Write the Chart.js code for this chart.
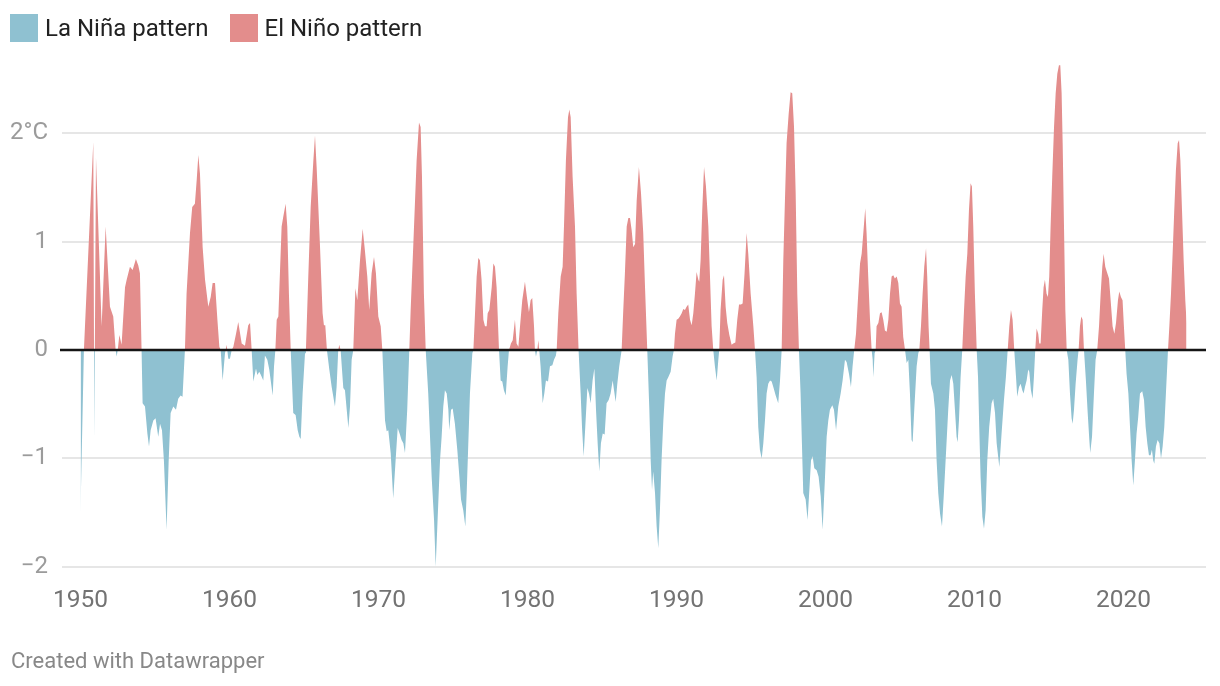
<!DOCTYPE html>
<html>
<head>
<meta charset="utf-8">
<script src="https://cdn.jsdelivr.net/npm/chart.js@4.4.0/dist/chart.umd.min.js"></script>
<style>
  body { margin: 0; background: #fff; font-family: Roboto, sans-serif; }
  #wrap { position: relative; width: 1220px; height: 686px; overflow: hidden; }
  #chart { position: absolute; left: 0; top: 0; }
  .legend { position: absolute; left: 10px; top: 14px; display: flex; align-items: center; font-size: 24px; line-height: 28px; color: #222; }
  .legend span.sw { display: inline-block; width: 28px; height: 28px; margin-right: 7px; }
  .legend .item { display: flex; align-items: center; margin-right: 21px; }
  .footer { position: absolute; left: 11px; top: 648px; font-size: 22px; color: #888; }
</style>
</head>
<body>
<div id="wrap">
  <canvas id="chart" width="1220" height="686"></canvas>
  <div class="legend">
    <div class="item"><span class="sw" style="background:#8fc1d1"></span>La Niña pattern</div>
    <div class="item"><span class="sw" style="background:#e38d8c"></span>El Niño pattern</div>
  </div>
  <div class="footer">Created with Datawrapper</div>
</div>
<script>
// sea surface temperature anomaly
const years = [
  1950.0, 1950.23, 1950.86, 1950.93, 1951.04, 1951.42, 1951.69, 1951.98, 1952.2, 1952.36, 1952.43, 1952.5,
  1952.61, 1952.76, 1952.99, 1953.1, 1953.32, 1953.5, 1953.72, 1953.88, 1953.99, 1954.1, 1954.17, 1954.33,
  1954.49, 1954.6, 1954.71, 1954.89, 1955.04, 1955.22, 1955.34, 1955.47, 1955.6, 1955.78, 1955.92, 1956.05,
  1956.23, 1956.41, 1956.56, 1956.72, 1956.85, 1957.01, 1957.12, 1957.35, 1957.5, 1957.68, 1957.8, 1957.91,
  1958.02, 1958.2, 1958.36, 1958.58, 1958.74, 1958.87, 1959.03, 1959.19, 1959.32, 1959.41, 1959.54, 1959.7,
  1959.81, 1959.92, 1960.03, 1960.15, 1960.26, 1960.44, 1960.59, 1960.82, 1961.04, 1961.26, 1961.38,
  1961.49, 1961.6, 1961.78, 1961.87, 1962.0, 1962.11, 1962.27, 1962.38, 1962.54, 1962.67, 1962.9, 1962.99,
  1963.08, 1963.17, 1963.28, 1963.5, 1963.61, 1963.77, 1963.88, 1963.99, 1964.11, 1964.28, 1964.44, 1964.58,
  1964.69, 1964.78, 1964.91, 1965.07, 1965.13, 1965.29, 1965.45, 1965.63, 1965.74, 1965.85, 1966.07, 1966.25,
  1966.34, 1966.43, 1966.54, 1966.7, 1966.86, 1967.08, 1967.19, 1967.3, 1967.37, 1967.46, 1967.64, 1967.75,
  1967.98, 1968.09, 1968.2, 1968.31, 1968.45, 1968.58, 1968.76, 1968.94, 1969.09, 1969.25, 1969.38, 1969.54,
  1969.7, 1969.83, 1969.99, 1970.15, 1970.26, 1970.44, 1970.55, 1970.66, 1970.82, 1970.99, 1971.15, 1971.29,
  1971.44, 1971.55, 1971.67, 1971.78, 1971.93, 1972.07, 1972.16, 1972.34, 1972.56, 1972.72, 1972.83, 1972.92,
  1973.05, 1973.17, 1973.34, 1973.57, 1973.73, 1973.84, 1973.95, 1974.13,
  1974.24, 1974.35, 1974.46, 1974.58, 1974.69, 1974.75, 1974.87, 1974.98, 1975.13, 1975.29, 1975.43, 1975.54,
  1975.69, 1975.83, 1975.92, 1976.03, 1976.14, 1976.3, 1976.37, 1976.48, 1976.59, 1976.7, 1976.81, 1976.92,
  1977.04, 1977.15, 1977.26, 1977.33, 1977.44, 1977.6, 1977.71, 1977.82, 1977.93, 1978.09, 1978.2, 1978.31,
  1978.42, 1978.54, 1978.67, 1978.76, 1978.89, 1979.01, 1979.16, 1979.27, 1979.39, 1979.5, 1979.65, 1979.83,
  1979.99, 1980.1, 1980.21, 1980.32, 1980.44, 1980.5, 1980.57, 1980.66, 1980.73, 1980.79, 1980.88, 1981.02,
  1981.13, 1981.24, 1981.38, 1981.51, 1981.67, 1981.78, 1981.91, 1981.96, 1982.07, 1982.23, 1982.36, 1982.45,
  1982.58, 1982.72, 1982.81, 1982.9, 1983.03, 1983.19, 1983.3, 1983.43, 1983.57, 1983.66, 1983.77, 1983.88,
  1984.02, 1984.13, 1984.24, 1984.37, 1984.49, 1984.6, 1984.71, 1984.82, 1984.93, 1985.05, 1985.18, 1985.31,
  1985.45, 1985.58, 1985.72, 1985.81, 1985.92, 1986.03, 1986.16, 1986.32, 1986.43, 1986.54, 1986.66, 1986.77,
  1986.88, 1986.99, 1987.1, 1987.22, 1987.33, 1987.48,
  1987.62, 1987.77, 1987.89, 1988.04, 1988.18, 1988.27, 1988.36, 1988.44, 1988.56, 1988.67, 1988.78, 1988.89,
  1989.0, 1989.12, 1989.23, 1989.34, 1989.45, 1989.61, 1989.74, 1989.83, 1989.9, 1990.01, 1990.12, 1990.23,
  1990.35, 1990.46, 1990.57, 1990.68, 1990.79, 1990.91, 1991.02, 1991.13, 1991.24, 1991.35, 1991.47, 1991.53,
  1991.62, 1991.73, 1991.85, 1991.98, 1992.14, 1992.25, 1992.36, 1992.47, 1992.58, 1992.7, 1992.81, 1992.87,
  1992.96, 1993.1, 1993.19, 1993.3, 1993.41, 1993.55, 1993.7, 1993.81, 1993.95, 1994.08, 1994.2, 1994.33,
  1994.44, 1994.57, 1994.71, 1994.82, 1994.98, 1995.16, 1995.27, 1995.38, 1995.49, 1995.6, 1995.72, 1995.83,
  1995.94, 1996.05, 1996.16, 1996.28, 1996.39, 1996.5, 1996.66, 1996.83, 1996.95, 1997.06, 1997.17, 1997.28,
  1997.39, 1997.53, 1997.66, 1997.77, 1997.89, 1998.0, 1998.11, 1998.22, 1998.33, 1998.42, 1998.51, 1998.67,
  1998.8, 1998.92, 1999.03, 1999.14, 1999.25, 1999.41, 1999.54, 1999.68, 1999.81,
  1999.97, 2000.08, 2000.19, 2000.3, 2000.46, 2000.57, 2000.71, 2000.86, 2001.02, 2001.15, 2001.31, 2001.42,
  2001.58, 2001.71, 2001.82, 2001.93, 2002.05, 2002.2, 2002.32, 2002.43, 2002.54, 2002.67, 2002.76, 2002.87,
  2002.99, 2003.1, 2003.17, 2003.21, 2003.3, 2003.37, 2003.43, 2003.55, 2003.66, 2003.77, 2003.88, 2003.99,
  2004.11, 2004.22, 2004.33, 2004.44, 2004.55, 2004.66, 2004.78, 2004.89, 2005.0, 2005.11, 2005.22, 2005.34,
  2005.45, 2005.56, 2005.67, 2005.78, 2005.85, 2005.96, 2006.12, 2006.23, 2006.3, 2006.41, 2006.52, 2006.63,
  2006.75, 2006.83, 2006.92, 2006.99, 2007.08, 2007.24, 2007.35, 2007.46, 2007.57, 2007.69, 2007.82, 2007.95,
  2008.09, 2008.24, 2008.36, 2008.47, 2008.58, 2008.69, 2008.8, 2008.87, 2008.96, 2009.07, 2009.18, 2009.3,
  2009.41, 2009.52, 2009.63, 2009.74, 2009.83, 2009.92, 2010.03, 2010.15, 2010.24, 2010.32, 2010.41, 2010.53,
  2010.64, 2010.75, 2010.86, 2010.99, 2011.15, 2011.26, 2011.38, 2011.49, 2011.67, 2011.82, 2011.98, 2012.11,
  2012.23, 2012.34, 2012.45, 2012.56, 2012.67,
  2012.79, 2012.87, 2012.99, 2013.1, 2013.21, 2013.3, 2013.39, 2013.5, 2013.61, 2013.68, 2013.79, 2013.9,
  2013.99, 2014.08, 2014.17, 2014.28, 2014.35, 2014.44, 2014.55, 2014.64, 2014.73, 2014.84, 2014.93, 2015.02,
  2015.11, 2015.22, 2015.34, 2015.45, 2015.56, 2015.67, 2015.76, 2015.85, 2015.92, 2016.01, 2016.1, 2016.19,
  2016.3, 2016.41, 2016.52, 2016.59, 2016.68, 2016.79, 2016.92, 2016.99, 2017.08, 2017.17, 2017.26, 2017.35,
  2017.48, 2017.6, 2017.71, 2017.77, 2017.89, 2018.02, 2018.13, 2018.24, 2018.36, 2018.47, 2018.58, 2018.67,
  2018.78, 2018.89, 2019.03, 2019.14, 2019.27, 2019.39, 2019.5, 2019.63, 2019.72, 2019.83, 2019.94, 2020.03,
  2020.12, 2020.21, 2020.33, 2020.44, 2020.55, 2020.66, 2020.77, 2020.88, 2020.99, 2021.11, 2021.26, 2021.38,
  2021.49, 2021.6, 2021.71, 2021.82, 2021.91, 2022.0, 2022.07, 2022.18, 2022.29, 2022.41, 2022.52, 2022.63,
  2022.74, 2022.85, 2022.99, 2023.08, 2023.19, 2023.3, 2023.41, 2023.52, 2023.64, 2023.73, 2023.82, 2023.93,
  2024.04, 2024.15, 2024.24
];

const anomaly = [
  -1.51, 0, 1.92, -0.82, 1.78, 0.22, 1.14, 0.4, 0.31, 0, -0.06, 0,
  0.14, 0.05, 0.58, 0.65, 0.77, 0.74, 0.84, 0.78, 0.71, 0, -0.49, -0.52,
  -0.77, -0.89, -0.74, -0.65, -0.63, -0.8, -0.68, -0.74, -1.02, -1.66, -1.02, -0.58,
  -0.52, -0.55, -0.45, -0.42, -0.43, 0, 0.52, 1.08, 1.32, 1.35, 1.57, 1.8,
  1.63, 0.95, 0.65, 0.4, 0.49, 0.62, 0.62, 0.28, 0.03, 0, -0.28, -0.03,
  0.05, -0.08, -0.08, 0, 0.03, 0.15, 0.26, 0.06, 0.04, 0.23, 0.25,
  0, -0.29, -0.17, -0.23, -0.2, -0.23, -0.28, -0.05, -0.09, -0.18, -0.42, -0.15,
  0, 0.28, 0.31, 1.14, 1.23, 1.35, 1.14, 0.52, 0, -0.58, -0.6, -0.74,
  -0.8, -0.82, -0.4, -0.03, 0, 0.68, 1.32, 1.75, 1.98, 1.69, 0.98, 0.34,
  0.23, 0.23, 0, -0.18, -0.34, -0.52, -0.34, 0, 0.05, 0, -0.35, -0.37,
  -0.72, -0.52, -0.09, 0, 0.57, 0.46, 0.83, 1.12, 0.92, 0.68, 0.37, 0.71,
  0.86, 0.71, 0.31, 0.22, 0, -0.65, -0.75, -0.74, -0.95, -1.37, -1.02, -0.72,
  -0.78, -0.83, -0.86, -0.95, -0.55, 0, 0.37, 0.98, 1.75, 2.1, 2.06, 1.6,
  0.52, 0, -0.4, -1.17, -1.57, -2.0, -1.63, -1.02,
  -0.8, -0.52, -0.37, -0.4, -0.55, -0.74, -0.55, -0.54, -0.68, -0.92, -1.17, -1.38,
  -1.48, -1.63, -1.32, -0.86, -0.4, -0.03, 0, 0.34, 0.68, 0.85, 0.83, 0.65,
  0.28, 0.22, 0.22, 0.34, 0.37, 0.58, 0.8, 0.77, 0.58, 0, -0.28, -0.29,
  -0.37, -0.42, -0.15, 0, 0.06, 0.09, 0.28, 0.06, 0.03, 0.22, 0.46, 0.63,
  0.46, 0.35, 0.46, 0.48, 0.22, 0, -0.06, 0, 0.09, 0, -0.15, -0.49,
  -0.4, -0.28, -0.29, -0.15, -0.14, -0.09, -0.05, 0, 0.34, 0.68, 0.77, 1.14,
  1.75, 2.15, 2.22, 2.15, 1.6, 1.14, 0.52, 0, -0.4, -0.71, -0.98, -0.71,
  -0.35, -0.4, -0.49, -0.28, -0.17, -0.55, -0.86, -1.12, -0.86, -0.77, -0.78, -0.49,
  -0.46, -0.4, -0.28, -0.37, -0.48, -0.31, -0.15, 0, 0.37, 0.71, 1.14, 1.22,
  1.22, 1.11, 0.95, 0.98, 1.38, 1.69,
  1.45, 1.08, 0.58, 0, -0.55, -1.02, -1.29, -1.12, -1.32, -1.63, -1.83, -1.48,
  -1.02, -0.65, -0.4, -0.28, -0.25, -0.2, -0.06, 0, 0.15, 0.28, 0.29, 0.31,
  0.34, 0.38, 0.37, 0.4, 0.42, 0.28, 0.23, 0.34, 0.52, 0.72, 0.65, 0.63,
  0.83, 1.29, 1.69, 1.51, 1.14, 0.68, 0.22, 0, -0.15, -0.28, -0.09, 0,
  0.37, 0.65, 0.69, 0.4, 0.25, 0.14, 0.05, 0.06, 0.07, 0.28, 0.42, 0.42,
  0.43, 0.71, 1.08, 0.89, 0.52, 0.22, 0, -0.25, -0.71, -0.92, -1.0, -0.86,
  -0.65, -0.4, -0.31, -0.28, -0.29, -0.34, -0.42, -0.49, -0.28, 0, 0.83, 1.38,
  1.91, 2.18, 2.38, 2.37, 2.06, 1.45, 0.52, 0, -0.4, -0.86, -1.32, -1.38,
  -1.57, -1.29, -1.02, -0.98, -1.09, -1.11, -1.17, -1.35, -1.66,
  -1.17, -0.8, -0.65, -0.55, -0.51, -0.55, -0.74, -0.52, -0.4, -0.28, -0.09, -0.11,
  -0.22, -0.34, -0.15, 0, 0.15, 0.52, 0.8, 0.89, 1.08, 1.31, 1.08, 0.68,
  0.28, 0, -0.09, -0.25, -0.03, 0, 0.22, 0.25, 0.34, 0.35, 0.28, 0.18,
  0.17, 0.28, 0.52, 0.68, 0.69, 0.66, 0.68, 0.62, 0.43, 0.4, 0.12, 0,
  -0.12, -0.09, -0.4, -0.83, -0.85, -0.55, -0.15, -0.03, 0, 0.22, 0.52, 0.77,
  0.94, 0.68, 0.22, 0, -0.31, -0.4, -0.55, -1.02, -1.32, -1.51, -1.63, -1.32,
  -0.95, -0.55, -0.28, -0.23, -0.31, -0.55, -0.8, -0.85, -0.65, -0.25, 0, 0.37,
  0.68, 0.89, 1.29, 1.54, 1.51, 1.14, 0.52, 0, -0.25, -0.71, -1.17, -1.54,
  -1.65, -1.48, -1.02, -0.71, -0.49, -0.45, -0.58, -0.86, -1.08, -0.77, -0.46, -0.25,
  0, 0.22, 0.37, 0.28, 0,
  -0.25, -0.43, -0.34, -0.31, -0.37, -0.4, -0.34, -0.28, -0.18, -0.2, -0.37, -0.45,
  -0.25, 0, 0.2, 0.15, 0.06, 0.06, 0.37, 0.58, 0.65, 0.52, 0.49, 0.68,
  1.14, 1.6, 2.06, 2.37, 2.55, 2.63, 2.63, 2.37, 1.91, 1.14, 0.37, 0,
  -0.09, -0.4, -0.63, -0.68, -0.55, -0.31, -0.09, 0, 0.22, 0.31, 0.28, 0,
  -0.28, -0.58, -0.83, -0.95, -0.8, -0.4, -0.09, 0, 0.22, 0.52, 0.77, 0.89,
  0.77, 0.72, 0.66, 0.46, 0.22, 0.15, 0.25, 0.46, 0.54, 0.49, 0.46, 0.22,
  0, -0.22, -0.4, -0.71, -1.02, -1.25, -1.02, -0.77, -0.62, -0.4, -0.38, -0.46,
  -0.71, -0.86, -0.97, -0.97, -0.92, -1.02, -1.05, -0.89, -0.83, -0.86, -1.0, -0.89,
  -0.71, -0.4, 0, 0.22, 0.52, 0.89, 1.29, 1.66, 1.91, 1.94, 1.75, 1.29,
  0.83, 0.46, 0.25
];

const xTicks = [1950, 1960, 1970, 1980, 1990, 2000, 2010, 2020];
const yTicks = [-2, -1, 0, 1, 2];

if (years.length !== anomaly.length) {
  throw new Error('length mismatch ' + years.length + ' vs ' + anomaly.length);
}

const points = years.map((y, i) => ({ x: y, y: anomaly[i] }));

// black baseline on top of the areas
const zeroLine = {
  id: 'zeroLine',
  afterDatasetsDraw(chart) {
    const c = chart.ctx;
    const y = chart.scales.y.getPixelForValue(0);
    c.save();
    c.strokeStyle = '#151515';
    c.lineWidth = 2.5;
    c.beginPath();
    c.moveTo(chart.chartArea.left - 2, y);
    c.lineTo(chart.chartArea.right, y);
    c.stroke();
    c.restore();
  }
};

const ctx = document.getElementById('chart').getContext('2d');
new Chart(ctx, {
  type: 'line',
  data: {
    datasets: [{
      data: points,
      borderColor: 'transparent',
      borderWidth: 0,
      pointRadius: 0,
      tension: 0,
      fill: { target: { value: 0 }, above: '#e38d8c', below: '#8fc1d1' }
    }]
  },
  options: {
    responsive: false,
    animation: false,
    layout: { padding: { left: 0, right: 14, top: 57.6, bottom: 69.3 } },
    plugins: { legend: { display: false }, tooltip: { enabled: false } },
    scales: {
      x: {
        type: 'linear',
        min: 1948.76,
        max: 2025.54,
        afterFit(s) { s.height = 50; },
        afterBuildTicks(s) { s.ticks = xTicks.map(v => ({ value: v })); },
        grid: { display: false },
        border: { display: false },
        ticks: {
          padding: 11,
          maxRotation: 0,
          color: '#737373',
          font: { family: 'Roboto', size: 24.5 },
          callback: v => String(v)
        }
      },
      y: {
        min: -2,
        max: 2.7,
        afterFit(s) { s.width = 62; },
        afterBuildTicks(s) { s.ticks = yTicks.map(v => ({ value: v })); },
        border: { display: false },
        grid: {
          drawTicks: false,
          lineWidth: 2,
          color: c => c.tick && c.tick.value === 0 ? 'transparent' : '#e6e6e6'
        },
        ticks: {
          padding: 14,
          color: '#9b9b9b',
          font: { family: 'Roboto', size: 24 },
          callback: v => v === 2 ? '2°C' : (v < 0 ? '\u2212' + Math.abs(v) : String(v))
        }
      }
    }
  },
  plugins: [zeroLine]
});
</script>
</body>
</html>
